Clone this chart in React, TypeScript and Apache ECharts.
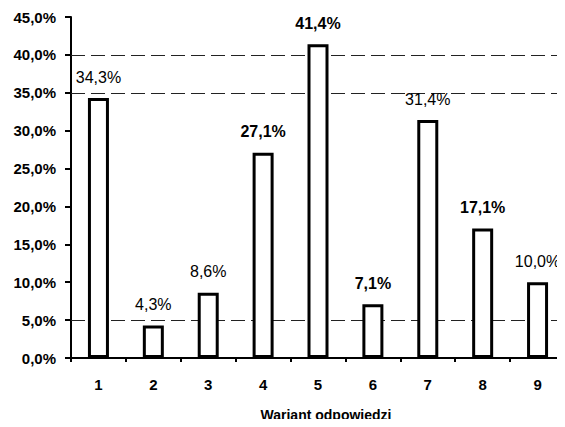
import React, { useEffect, useRef } from "react";
import * as echarts from "echarts";

const categories = ["1", "2", "3", "4", "5", "6", "7", "8", "9"];
const shares = [34.3, 4.3, 8.6, 27.1, 41.4, 7.1, 31.4, 17.1, 10.0];
const gridLevels = [5, 35, 40];
const axisName = "Wariant odpowiedzi";

const fmt = (v: number) => v.toFixed(1).replace(".", ",") + "%";
const boldLabels = new Set([3, 4, 5, 7]);
const FONT = "'Liberation Sans', Arial, sans-serif";

export default function App() {
  const ref = useRef<HTMLDivElement>(null);
  useEffect(() => {
    if (!ref.current) return;
    const chart = echarts.init(ref.current, null, { renderer: "svg" });
    chart.setOption({
      animation: false,
      backgroundColor: "#ffffff",
      grid: { left: 71, right: -3, top: 17, bottom: 68, containLabel: false },
      xAxis: {
        type: "category",
        data: categories,
        boundaryGap: true,
        name: axisName,
        nameLocation: "middle",
        nameGap: 50,
        nameTextStyle: {
          fontFamily: FONT,
          fontSize: 14,
          fontWeight: "bold",
          color: "#000",
          padding: [0, 0, 0, 16],
        },
        axisLine: { lineStyle: { color: "#000", width: 2 } },
        axisTick: { show: true, alignWithLabel: false, length: 4, lineStyle: { color: "#000", width: 2 } },
        axisLabel: { fontFamily: FONT, fontSize: 15, fontWeight: "bold", color: "#000", margin: 19 },
        splitLine: { show: false },
      },
      yAxis: {
        type: "value",
        min: 0,
        max: 45,
        interval: 5,
        axisLine: { show: true, lineStyle: { color: "#000", width: 2 } },
        axisTick: { show: true, length: 6, lineStyle: { color: "#000", width: 2 } },
        axisLabel: {
          fontFamily: FONT,
          fontSize: 15,
          fontWeight: "bold",
          color: "#000",
          margin: 15,
          formatter: (v: number) => fmt(v),
        },
        splitLine: { show: false },
      },
      series: [
        {
          type: "bar",
          data: shares.map((v, i) => ({
            value: v,
            label: { fontWeight: boldLabels.has(i) ? "bold" : "normal" },
          })),
          barWidth: 21,
          itemStyle: { color: "#ffffff", borderColor: "#000", borderWidth: 3 },
          label: {
            show: true,
            position: "top",
            distance: 13,
            fontFamily: FONT,
            fontSize: 16,
            color: "#000",
            formatter: (p: any) => fmt(p.value),
          },
          markLine: {
            silent: true,
            z: 1,
            symbol: ["none", "none"],
            label: { show: false },
            lineStyle: { color: "#222", width: 1, type: [14, 6] },
            data: gridLevels.map((y) => ({ yAxis: y })),
          },
        },
      ],
    });
    return () => chart.dispose();
  }, []);
  return <div ref={ref} style={{ width: 565, height: 427, margin: -8 }} />;
}
